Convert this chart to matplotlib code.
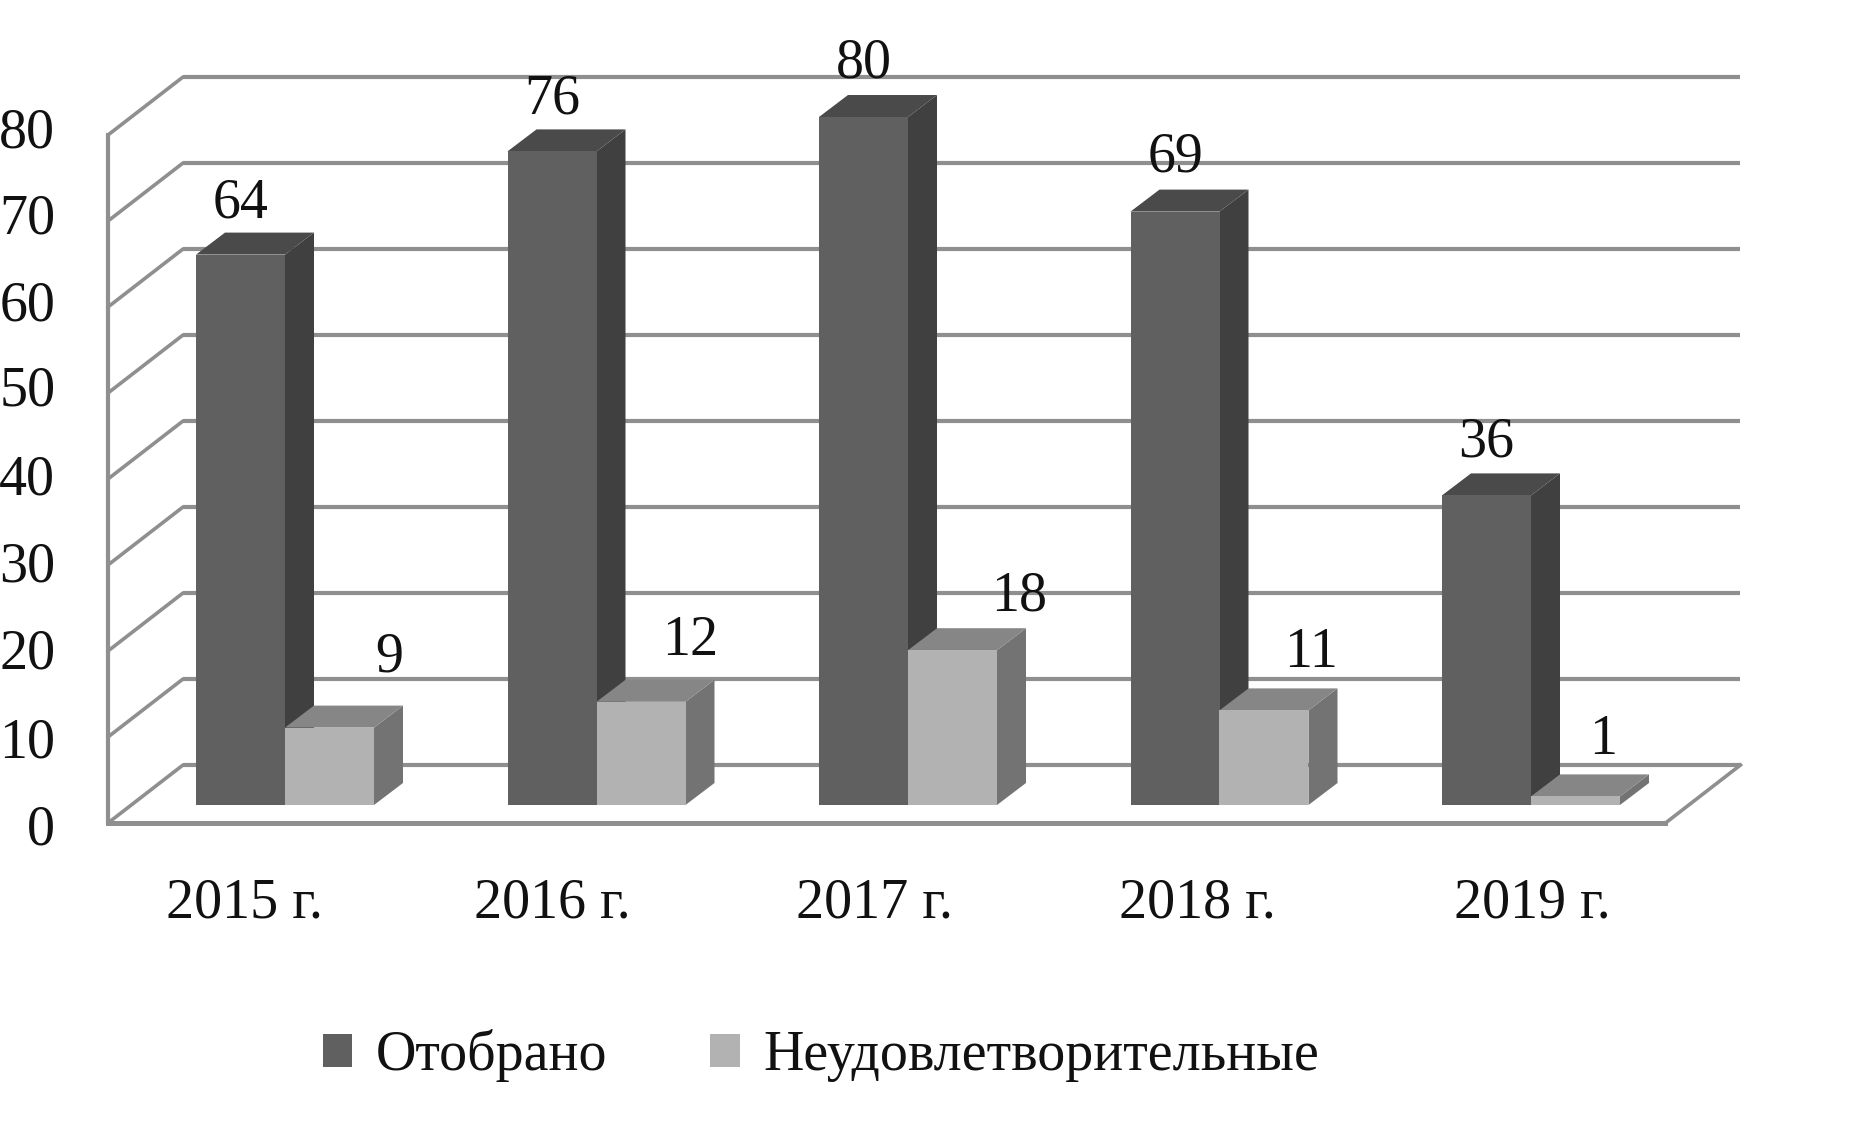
import matplotlib
matplotlib.use('Agg')
import matplotlib.pyplot as plt

# Данные
years = ['2015 г.', '2016 г.', '2017 г.', '2018 г.', '2019 г.']
otobrano = [64, 76, 80, 69, 36]
neud = [9, 12, 18, 11, 1]
y_ticks = [0, 10, 20, 30, 40, 50, 60, 70, 80]

# Сдвиги подписей (как в исходном рисунке)
year_shift = [-41, -44, -33, -22, 1]
y_lab_shift = [-2, -2, 0, 0, 0, 2, 0, 0, -1]
dark_lab_dx = [0, 0, 0, 0, 0]
dark_lab_dy = [51, 52, 54, 54, 53]
light_lab_dx = [60, 49, 67, 47, 28]
light_lab_dy = [70, 61, 54, 57, 56]

# Геометрия: пикселей на единицу
W, H = 1867, 1137
px_x = 311.5
px_y = 8.6
bar_w = 89 / px_x
floor_y = -18 / px_y
wall_x = -177 / px_x
wall_dx, wall_dy = 75 / px_x, 58 / px_y
bar_dx, bar_dy = 29 / px_x, 22 / px_y
floor_w = 5.0
y_bottom = -35 / px_y  # ниже пола, чтобы подпись 0 оставалась в пределах оси

plt.rcParams['font.family'] = ['Liberation Serif', 'DejaVu Serif']
fs = 40.3
txt = '#111111'
grid_c = '#8f8f8f'

fig = plt.figure(figsize=(W / 100, H / 100), dpi=100)
ax = fig.add_axes([108 / W, 1 - 840 / H, 1634 / W, 763 / H])
for s in ax.spines.values():
    s.set_visible(False)

# Стенка и сетка
right = wall_x + floor_w + wall_dx
for v in y_ticks:
    y0 = floor_y + v
    ax.plot([wall_x, wall_x + wall_dx], [y0, y0 + wall_dy], color=grid_c, lw=2.6, zorder=0.5,
            solid_capstyle='round', clip_on=False)
    ax.plot([wall_x + wall_dx, right], [y0 + wall_dy, y0 + wall_dy], color=grid_c, lw=3, zorder=0.5,
            solid_capstyle='butt', clip_on=False)
ax.plot([wall_x, wall_x], [floor_y, floor_y + y_ticks[-1]], color=grid_c, lw=3, zorder=0.6, clip_on=False)
ax.plot([wall_x, wall_x + floor_w], [floor_y, floor_y], color=grid_c, lw=3.6, zorder=0.6, clip_on=False)
ax.plot([wall_x + floor_w, right], [floor_y, floor_y + wall_dy], color=grid_c, lw=2.6, zorder=0.6, clip_on=False)


def bar3d(x, h, front, side, top, label=None):
    ax.fill([x + bar_w, x + bar_w + bar_dx, x + bar_w + bar_dx, x + bar_w],
            [0, bar_dy, h + bar_dy, h], color=side, lw=0, clip_on=False)
    ax.fill([x, x + bar_dx, x + bar_w + bar_dx, x + bar_w],
            [h, h + bar_dy, h + bar_dy, h], color=top, lw=0, clip_on=False)
    ax.bar(x, h, width=bar_w, align='edge', color=front, lw=0, label=label, clip_on=False)


for i in range(len(years)):
    bar3d(i - bar_w, otobrano[i], '#606060', '#404040', '#4a4a4a', 'Отобрано' if i == 0 else None)
    bar3d(i, neud[i], '#b2b2b2', '#737373', '#868686', 'Неудовлетворительные' if i == 0 else None)
    ax.annotate(str(otobrano[i]), (i - bar_w / 2, otobrano[i]),
                xytext=(dark_lab_dx[i] * 0.72, dark_lab_dy[i] * 0.72), textcoords='offset points',
                ha='center', va='center', fontsize=fs, color=txt, annotation_clip=False)
    ax.annotate(str(neud[i]), (i + bar_w / 2, neud[i]),
                xytext=(light_lab_dx[i] * 0.72, light_lab_dy[i] * 0.72), textcoords='offset points',
                ha='center', va='center', fontsize=fs, color=txt, annotation_clip=False)

# Оси (подписи шкалы идут чуть шире сетки, как на исходном рисунке)
ax.set_yticks([-2.79 + v * 1.0123 + y_lab_shift[k] / px_y for k, v in enumerate(y_ticks)])
ax.set_yticklabels([str(v) for v in y_ticks], fontsize=fs, color=txt, va='center')
ax.set_xticks([i + year_shift[i] / px_x for i in range(len(years))])
ax.set_xticklabels(years, fontsize=fs, color=txt)
ax.tick_params(axis='y', length=0, pad=38)
ax.tick_params(axis='x', length=0, pad=26.8)
ax.set_xlim(wall_x, wall_x + 1634 / px_x)
ax.set_ylim(y_bottom, y_bottom + 763 / px_y)

ax.legend(loc='center', bbox_to_anchor=(821 / W, 1 - 1056 / H), bbox_transform=fig.transFigure,
          ncol=2, frameon=False, fontsize=40.3, labelcolor=txt, handlelength=0.53, handleheight=0.53,
          handletextpad=0.42, columnspacing=1.84, borderpad=0)

fig.savefig('out.png', dpi=100, facecolor='white')
